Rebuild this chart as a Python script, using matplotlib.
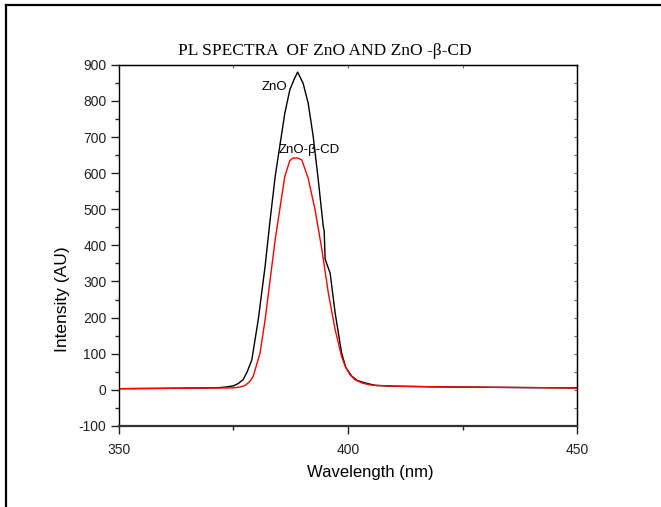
import matplotlib
matplotlib.use("Agg")
import matplotlib.pyplot as plt
from matplotlib.lines import Line2D
from matplotlib.ticker import MultipleLocator

plt.rcParams['font.family'] = ['Liberation Sans', 'DejaVu Sans']
plt.rcParams['axes.unicode_minus'] = False

# ZnO spectrum
wl_zno = [350, 360, 368, 372, 373.5, 375, 376, 377.1, 378, 379.0, 380.4, 381.9,
          383.0, 384.1, 385.2, 386.2, 387.3, 388.3, 389.0, 390.2, 391.3, 392.4,
          393.5, 394.6, 394.8, 395.0, 396.1, 397.2, 398.6, 399.5, 400.8, 402,
          403.7, 406, 410, 420, 430, 440, 450]
int_zno = [3, 4, 5, 6, 8, 11, 17, 28, 50, 83, 194, 342,
           471, 591, 683, 766, 831, 862, 880, 849, 794, 702,
           582, 452, 440, 362, 323, 212, 102, 62, 38, 26,
           19, 12, 10, 8, 7, 6, 5]

# ZnO-beta-CD spectrum
wl_cd = [350, 360, 370, 374, 375.5, 376.5, 377.5, 378.5, 379.3, 380.8, 381.9,
         383.0, 384.1, 385.2, 386.2, 387.3, 388.0, 389.0, 389.9, 391.3, 392.8,
         394.3, 395.7, 397.2, 398.6, 399.5, 400.4, 401.5, 403.0, 405, 410, 420,
         430, 440, 450]
int_cd = [3, 4, 5, 5, 6, 8, 12, 22, 37, 102, 194,
          305, 416, 508, 591, 635, 642, 642, 637, 586, 499,
          388, 268, 166, 92, 62, 42, 28, 19, 13, 10, 8,
          7, 6, 5]

fig = plt.figure(figsize=(6.61, 5.07), dpi=100)
ax = fig.add_axes([0.180, 0.160, 0.693, 0.712])

ax.plot(wl_zno, int_zno, color='black', lw=1.0)
ax.plot(wl_cd, int_cd, color='red', lw=1.0)

ax.set_xlim(350, 450)
ax.set_ylim(-100, 900)
ax.xaxis.set_major_locator(MultipleLocator(50))
ax.xaxis.set_minor_locator(MultipleLocator(25))
ax.yaxis.set_major_locator(MultipleLocator(100))
ax.yaxis.set_minor_locator(MultipleLocator(50))

ax.tick_params(which='both', direction='out', labelsize=10, colors='#222222',
               top=False, right=False)
ax.tick_params(which='major', length=6, width=1)
ax.tick_params(which='minor', length=3, width=1)
ax.tick_params(axis='x', which='major', pad=6)
ax.tick_params(axis='y', which='major', pad=3)
for sp in ax.spines.values():
    sp.set_linewidth(1.0)
ax.spines['bottom'].set_linewidth(1.6)
ax.spines['bottom'].set_color('#333333')

# small inner ticks on the top and right edges
sec_x = ax.secondary_xaxis('top')
sec_x.xaxis.set_major_locator(MultipleLocator(25))
sec_x.tick_params(direction='in', length=2, labeltop=False, color='#666666')
sec_y = ax.secondary_yaxis('right')
sec_y.yaxis.set_major_locator(MultipleLocator(50))
sec_y.tick_params(direction='in', length=2, labelright=False, color='#666666')

ax.set_xlabel('Wavelength (nm)', fontsize=12)
ax.set_ylabel('Intensity (AU)', fontsize=12.5)
ax.xaxis.set_label_coords(0.548, -0.108)
ax.yaxis.set_label_coords(-0.107, 0.35)

ax.set_title('PL SPECTRA  OF ZnO AND ZnO -\u03b2-CD', family='Liberation Serif',
             fontsize=12.5, x=0.45, pad=7)

ax.text(383.9, 838, 'ZnO', fontsize=9.5, ha='center', va='center')
ax.text(391.6, 665, 'ZnO-\u03b2-CD', fontsize=9.5, ha='center', va='center')

# outer frame (left and top edges only)
fig.add_artist(Line2D([0.009, 0.009], [0, 0.99], transform=fig.transFigure,
                      color='black', lw=1.6))
fig.add_artist(Line2D([0.009, 1], [0.99, 0.99], transform=fig.transFigure,
                      color='black', lw=1.6))

fig.savefig('out.png', dpi=100)
